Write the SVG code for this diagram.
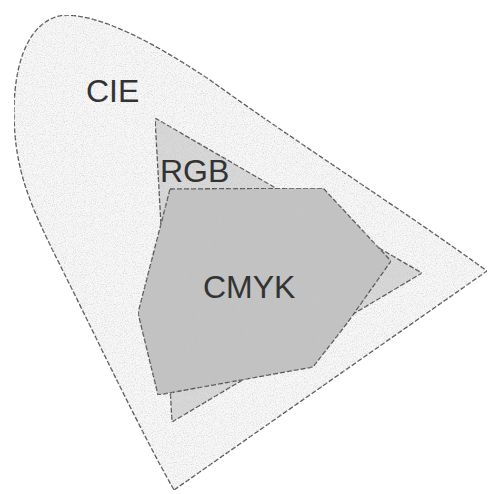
<svg xmlns="http://www.w3.org/2000/svg" width="488" height="494" viewBox="0 0 488 494">
  <style>
    .gamut { stroke: #555; stroke-width: 1.3; stroke-dasharray: 5 2; stroke-linejoin: round; }
    .lbl { font-family: "Liberation Sans", Arial, sans-serif; font-size: 32px; fill: #333; }
  </style>
  <defs>
    <filter id="grain" x="0" y="0" width="100%" height="100%">
      <feTurbulence type="fractalNoise" baseFrequency="0.9" numOctaves="2" seed="3" result="n"/>
      <feColorMatrix in="n" type="matrix" values="0 0 0 0 0.5  0 0 0 0 0.5  0 0 0 0 0.5  0 0 0 -1.4 0.75" result="g"/>
      <feComposite in="g" in2="SourceGraphic" operator="in" result="gm"/>
      <feMerge><feMergeNode in="SourceGraphic"/><feMergeNode in="gm"/></feMerge>
    </filter>
  </defs>
  <rect width="488" height="494" fill="#ffffff"/>
  <g id="cie">
    <path class="gamut" fill="#f7f7f7" filter="url(#grain)" d="M 174 490 L 487 271 C 400 208, 300 145, 210 80 C 150 40, 100 15, 65 15 C 35 18, 15 50, 14 110 C 14 170, 30 205, 60 265 C 100 345, 140 430, 174 490 Z"/>
    <text class="lbl" x="86" y="102">CIE</text>
  </g>
  <g id="rgb">
    <path class="gamut" fill="#d8d8d8" filter="url(#grain)" d="M 155 118 L 422 273 L 172 422 Z"/>
    <text class="lbl" x="160" y="182">RGB</text>
  </g>
  <g id="cmyk">
    <path class="gamut" fill="#c3c3c3" filter="url(#grain)" d="M 170 189 L 323 188 L 391 261 L 348 322 L 313 367 L 158 395 L 138 313 Z"/>
    <text class="lbl" x="203" y="298">CMYK</text>
  </g>
  <g id="connectors"/>
</svg>
